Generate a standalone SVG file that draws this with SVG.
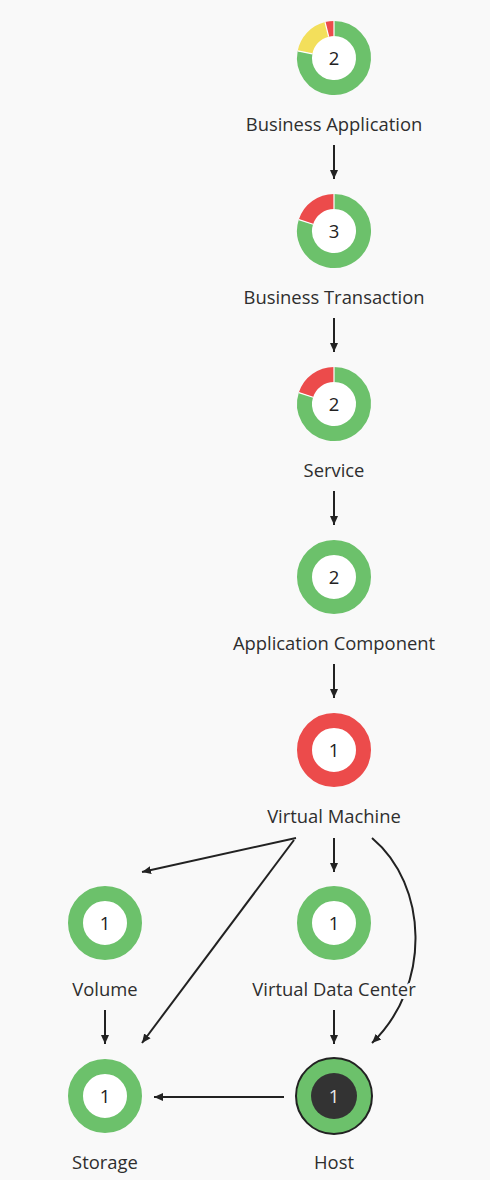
<svg xmlns="http://www.w3.org/2000/svg" width="490" height="1180" viewBox="0 0 490 1180">
<defs>
<style>
.bg{fill:#f9f9f9}
.ring{fill:none;stroke-width:15}
.g{stroke:#6cc16b}
.r{stroke:#ec4b4b}
.y{stroke:#f3df5b}
.sep{stroke:#ffffff;stroke-width:1.2}
.inner{fill:#ffffff}
.num{font-family:"Open Sans","Noto Sans","Liberation Sans",sans-serif;font-size:18.5px;fill:#222;text-anchor:middle}
.lbl{font-family:"Open Sans","Noto Sans","Liberation Sans",sans-serif;font-size:18.4px;fill:#2e2e2e;text-anchor:middle;stroke:#f9f9f9;stroke-width:6;stroke-linejoin:round;paint-order:stroke}
.edge{fill:none;stroke:#222;stroke-width:2}
</style>
<marker id="arr" markerUnits="userSpaceOnUse" markerWidth="10" markerHeight="10" refX="9" refY="5" orient="auto">
<path d="M0,1 L9,5 L0,9 z" fill="#222"/>
</marker>
</defs>
<rect class="bg" x="0" y="0" width="490" height="1180"/>

<g id="connectors">
<line class="edge" x1="334" y1="145" x2="334" y2="179" marker-end="url(#arr)"/>
<line class="edge" x1="334" y1="318" x2="334" y2="352" marker-end="url(#arr)"/>
<line class="edge" x1="334" y1="491" x2="334" y2="525" marker-end="url(#arr)"/>
<line class="edge" x1="334" y1="664" x2="334" y2="698" marker-end="url(#arr)"/>
<line class="edge" x1="334" y1="838" x2="334" y2="872" marker-end="url(#arr)"/>
<line class="edge" x1="296" y1="838" x2="142" y2="872" marker-end="url(#arr)"/>
<line class="edge" x1="294" y1="840" x2="142" y2="1043" marker-end="url(#arr)"/>
<path class="edge" d="M372,838 C428,885 432,985 372,1043" marker-end="url(#arr)"/>
<line class="edge" x1="105" y1="1010" x2="105" y2="1044" marker-end="url(#arr)"/>
<line class="edge" x1="334" y1="1010" x2="334" y2="1044" marker-end="url(#arr)"/>
<line class="edge" x1="284" y1="1097" x2="154" y2="1097" marker-end="url(#arr)"/>
</g>

<g id="business-application">
<circle class="inner" cx="334" cy="58" r="23"/>
<path class="ring g" d="M334,28.5 A29.5,29.5 0 1 1 305.04,52.37"/>
<path class="ring y" d="M305.04,52.37 A29.5,29.5 0 0 1 326.86,29.38"/>
<path class="ring r" d="M326.86,29.38 A29.5,29.5 0 0 1 334,28.5"/>
<line class="sep" x1="334" y1="21" x2="334" y2="36"/>
<line class="sep" x1="297.68" y1="50.94" x2="312.40" y2="53.80"/>
<line class="sep" x1="325.05" y1="22.10" x2="328.68" y2="36.65"/>
<text class="num" x="334" y="64.5">2</text>
<text class="lbl" x="334" y="131">Business Application</text>
</g>

<g id="business-transaction">
<circle class="inner" cx="334" cy="231" r="23"/>
<path class="ring g" d="M334,201.5 A29.5,29.5 0 1 1 305.94,221.88"/>
<path class="ring r" d="M305.94,221.88 A29.5,29.5 0 0 1 334,201.5"/>
<line class="sep" x1="334" y1="194" x2="334" y2="209"/>
<line class="sep" x1="298.81" y1="219.57" x2="313.08" y2="224.20"/>
<text class="num" x="334" y="237.5">3</text>
<text class="lbl" x="334" y="304">Business Transaction</text>
</g>

<g id="service">
<circle class="inner" cx="334" cy="404" r="23"/>
<path class="ring g" d="M334,374.5 A29.5,29.5 0 1 1 305.94,394.88"/>
<path class="ring r" d="M305.94,394.88 A29.5,29.5 0 0 1 334,374.5"/>
<line class="sep" x1="334" y1="367" x2="334" y2="382"/>
<line class="sep" x1="298.81" y1="392.57" x2="313.08" y2="397.20"/>
<text class="num" x="334" y="410.5">2</text>
<text class="lbl" x="334" y="477">Service</text>
</g>

<g id="application-component">
<circle class="inner" cx="334" cy="577" r="23"/>
<circle class="ring g" cx="334" cy="577" r="29.5"/>
<text class="num" x="334" y="583.5">2</text>
<text class="lbl" x="334" y="650">Application Component</text>
</g>

<g id="virtual-machine">
<circle class="inner" cx="334" cy="750" r="23"/>
<circle class="ring r" cx="334" cy="750" r="29.5"/>
<text class="num" x="334" y="756.5">1</text>
<text class="lbl" x="334" y="823">Virtual Machine</text>
</g>

<g id="volume">
<circle class="inner" cx="105" cy="923" r="23"/>
<circle class="ring g" cx="105" cy="923" r="29.5"/>
<text class="num" x="105" y="929.5">1</text>
<text class="lbl" x="105" y="996">Volume</text>
</g>

<g id="virtual-data-center">
<circle class="inner" cx="334" cy="923" r="23"/>
<circle class="ring g" cx="334" cy="923" r="29.5"/>
<text class="num" x="334" y="929.5">1</text>
<text class="lbl" x="334" y="996">Virtual Data Center</text>
</g>

<g id="storage">
<circle class="inner" cx="105" cy="1096" r="23"/>
<circle class="ring g" cx="105" cy="1096" r="29.5"/>
<text class="num" x="105" y="1102.5">1</text>
<text class="lbl" x="105" y="1169">Storage</text>
</g>

<g id="host">
<circle cx="334" cy="1096" r="38" fill="#6cc16b" stroke="#222" stroke-width="2"/>
<circle cx="334" cy="1096" r="23" fill="#333"/>
<text class="num" x="334" y="1102.5" style="fill:#e8e8e8">1</text>
<text class="lbl" x="334" y="1169">Host</text>
</g>
</svg>
